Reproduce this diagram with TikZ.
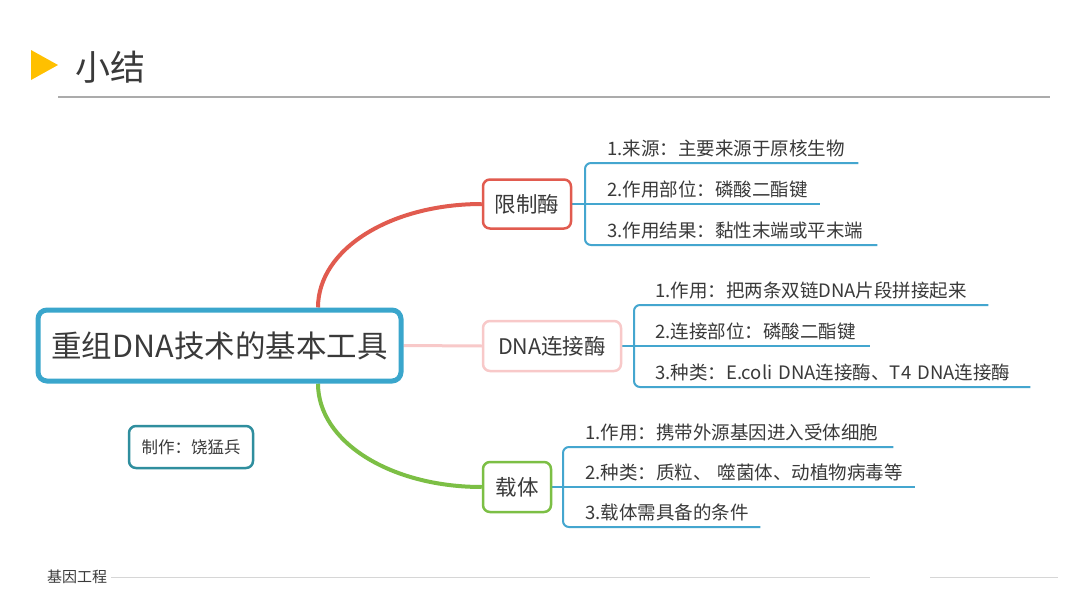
\documentclass[tikz,border=0pt]{standalone}
\usepackage{fontspec}
\setmainfont{Noto Sans CJK SC}
\usetikzlibrary{backgrounds}
\definecolor{txt}{HTML}{3A3A3A}
\definecolor{titleyellow}{HTML}{FFC000}
\definecolor{rulegray}{HTML}{ABABAB}
\definecolor{footgray}{HTML}{D6D6D6}
\definecolor{mainblue}{HTML}{3AA6CC}
\definecolor{authteal}{HTML}{2F8E9E}
\definecolor{redbr}{HTML}{E15B4F}
\definecolor{pinkbr}{HTML}{F8C9C9}
\definecolor{greenbr}{HTML}{7CBF45}
\definecolor{leafblue}{HTML}{44A6CF}
\begin{document}
\begin{tikzpicture}[x=1pt,y=-1pt,
  mainbox/.style={draw=mainblue, line width=5pt, rounded corners=9pt, fill=white,
    minimum width=363pt, minimum height=71pt, inner sep=0pt, text=txt,
    font=\fontsize{30.5}{36}\selectfont},
  authbox/.style={draw=authteal, line width=2.5pt, rounded corners=7pt, fill=white,
    minimum width=124pt, minimum height=42pt, inner sep=0pt, text=txt,
    font=\fontsize{16.5}{20}\selectfont},
  branchbox/.style={line width=2.5pt, rounded corners=7pt, fill=white,
    minimum height=49pt, inner sep=0pt, text=txt,
    font=\fontsize{21.5}{26}\selectfont},
  leaf/.style={anchor=south west, inner xsep=0pt, inner ysep=4pt,
    text height=14pt, text depth=3pt, align=left, text=txt,
    font=\fontsize{18.5}{22}\selectfont},
  bracket/.style={draw=leafblue, line width=2pt, rounded corners=6pt},
  stem/.style={draw=leafblue, line width=2pt},
  branchcurve/.style={line width=4pt},
]
\useasboundingbox (0,0) rectangle (1080,608);

% title
\fill[titleyellow] (31,50) -- (58,65) -- (31,80) -- cycle;
\node[text=txt, font=\fontsize{35}{40}\selectfont, inner sep=0pt] (title) at (110.5,67) {小结};
\draw[rulegray, line width=1.5pt] (58,97) -- (1050,97);

% footer
\node[text=txt, font=\fontsize{15}{18}\selectfont, inner sep=0pt, anchor=west] (foot) at (47,577) {基因工程};
\coordinate (fa) at (870,577);
\coordinate (fb) at (930,577);
\coordinate (fc) at (1058,577);
\draw[footgray, line width=1pt] (foot.east) ++(4pt,0) -- (fa);
\draw[footgray, line width=1pt] (fb) -- (fc);

% main nodes
\node[mainbox] (main) at (219.5,345.5) {重组DNA技术的基本工具};
\node[authbox] (auth) at (191,447) {制作：饶猛兵};

\node[branchbox, draw=redbr, minimum width=88pt] (r) at (527,204) {限制酶};
\node[branchbox, draw=pinkbr, minimum width=138pt, minimum height=50pt] (d) at (552,346) {DNA连接酶};
\node[branchbox, draw=greenbr, minimum width=68pt, minimum height=50pt] (v) at (517,487) {载体};

% leaves group 1
\node[leaf, text width=251pt] (l11) at (607,163) {\mbox{1.来源：主要来源于原核生物}};
\node[leaf, text width=213pt] (l12) at (607,204) {\mbox{2.作用部位：磷酸二酯键}};
\node[leaf, text width=270pt] (l13) at (607,245) {\mbox{3.作用结果：黏性末端或平末端}};
% leaves group 2
\node[leaf, text width=333pt] (l21) at (655,305) {\mbox{1.作用：把两条双链DNA片段拼接起来}};
\node[leaf, text width=215pt] (l22) at (655,346) {\mbox{2.连接部位：磷酸二酯键}};
\node[leaf, text width=375pt] (l23) at (655,387) {\mbox{3.种类：E.coli DNA连接酶、T4 DNA连接酶}};
% leaves group 3
\node[leaf, text width=308pt] (l31) at (585,447) {\mbox{1.作用：携带外源基因进入受体细胞}};
\node[leaf, text width=330pt] (l32) at (585,487) {\mbox{2.种类：质粒、 噬菌体、动植物病毒等}};
\node[leaf, text width=175pt] (l33) at (585,527) {\mbox{3.载体需具备的条件}};

% connectors
\begin{scope}[on background layer]
\fill[white] (0,0) rectangle (1080,608);
\draw[branchcurve, redbr] ([xshift=98.5pt]main.north) .. controls +(0,-58.5) and +(-91,0) .. (r.west);
\draw[branchcurve, greenbr] ([xshift=98.5pt]main.south) .. controls +(0,58.5) and +(-91,0) .. (v.west);
\draw[pinkbr, line width=3pt] (main.east) -- (d.west);

\draw[stem] (r.east) -- (l12.south east);
\draw[bracket] (l11.south east) -- ([xshift=-22pt]l11.south west) -- ([xshift=-22pt]l13.south west) -- (l13.south east);

\draw[stem] (d.east) -- (l22.south east);
\draw[bracket] (l21.south east) -- ([xshift=-21pt]l21.south west) -- ([xshift=-21pt]l23.south west) -- (l23.south east);

\draw[stem] (v.east) -- (l32.south east);
\draw[bracket] (l31.south east) -- ([xshift=-22pt]l31.south west) -- ([xshift=-22pt]l33.south west) -- (l33.south east);
\end{scope}
\end{tikzpicture}
\end{document}
